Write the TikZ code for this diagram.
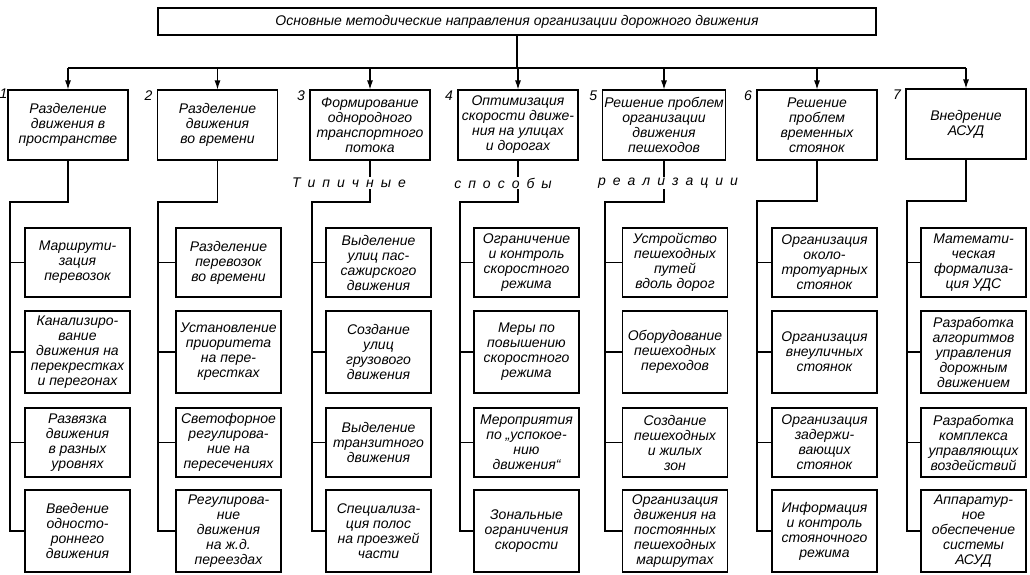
\documentclass[tikz,border=0pt]{standalone}
\usepackage{fontspec}
\setmainfont{Liberation Sans}
\usepackage{tikz}
\usetikzlibrary{arrows.meta}
\newcommand\widesp{\spaceskip 7pt\relax}

\begin{document}
\begin{tikzpicture}[x=1pt, y=-1pt, line width=1.1pt,
        box/.style={draw, align=center, inner sep=2pt, font=\fontsize{14}{15}\selectfont\itshape},
        main/.style={box, minimum width=120pt, minimum height=70pt},
        item/.style={box, minimum width=105pt, minimum height=69pt},
        tall/.style={item, minimum height=82pt},
        num/.style={anchor=north east, inner sep=1pt, font=\fontsize{14}{15}\selectfont\itshape},
        way/.style={fill=white, inner sep=1pt, font=\fontsize{14}{15}\selectfont\itshape},
        edge/.style={-{Latex[length=9pt, width=6pt]}},
        ]

        \useasboundingbox (0,0) rectangle (1030,574);

        % 顶部
        \node[box, minimum width=718pt, minimum height=27pt] (top) at (517,21.5) {Основные методические направления организации дорожного движения};

        % 方向
        \node[main] (m1) at (68,125) {Разделение\\движения в\\пространстве};
        \node[main] (m2) at (217.5,125) {Разделение\\движения\\во времени};
        \node[main] (m3) at (370,125) {Формирование\\однородного\\транспортного\\потока};
        \node[main] (m4) at (518,125) {Оптимизация\\скорости движе-\\ния на улицах\\и дорогах};
        \node[main] (m5) at (664,125) {Решение проблем\\организации\\движения\\пешеходов};
        \node[main] (m6) at (817,125) {Решение\\проблем\\временных\\стоянок};
        \node[main] (m7) at (966,124) {Внедрение\\АСУД};

        \node[num, inner sep=0pt] (n1) at ([xshift=0.5pt, yshift=1pt]m1.north west) {1};
        \node[num] (n2) at ([xshift=-3pt]m2.north west) {2};
        \node[num] (n3) at ([xshift=-3pt]m3.north west) {3};
        \node[num] (n4) at ([xshift=-3pt]m4.north west) {4};
        \node[num] (n5) at ([xshift=-3pt]m5.north west) {5};
        \node[num] (n6) at ([xshift=-3pt]m6.north west) {6};
        \node[num] (n7) at ([xshift=-3pt]m7.north west) {7};

        % 方法
        \node[item] (s11) at (77.5,262.5) {Маршрути-\\зация\\перевозок};
        \node[tall] (s12) at (77.5,352) {Канализиро-\\вание\\движения на\\перекрестках\\и перегонах};
        \node[item] (s13) at (77.5,442.5) {Развязка\\движения\\в разных\\уровнях};
        \node[tall] (s14) at (77.5,531) {Введение\\односто-\\роннего\\движения};

        \node[item] (s21) at (228.5,262.5) {Разделение\\перевозок\\во времени};
        \node[tall] (s22) at (228.5,352) {Установление\\приоритета\\на пере-\\крестках};
        \node[item] (s23) at (228.5,442.5) {Светофорное\\регулирова-\\ние на\\пересечениях};
        \node[tall] (s24) at (228.5,531) {Регулирова-\\ние\\движения\\на ж.д.\\переездах};

        \node[item] (s31) at (378.5,262.5) {Выделение\\улиц пас-\\сажирского\\движения};
        \node[tall] (s32) at (378.5,352) {Создание\\улиц\\грузового\\движения};
        \node[item] (s33) at (378.5,442.5) {Выделение\\транзитного\\движения};
        \node[tall] (s34) at (378.5,531) {Специализа-\\ция полос\\на проезжей\\части};

        \node[item] (s41) at (526.5,262.5) {Ограничение\\и контроль\\скоростного\\режима};
        \node[tall] (s42) at (526.5,352) {Меры по\\повышению\\скоростного\\режима};
        \node[item] (s43) at (526.5,442.5) {Мероприятия\\по „успокое-\\нию\\движения“};
        \node[tall] (s44) at (526.5,531) {Зональные\\ограничения\\скорости};

        \node[item] (s51) at (675,262.5) {Устройство\\пешеходных\\путей\\вдоль дорог};
        \node[tall] (s52) at (675,352) {Оборудование\\пешеходных\\переходов};
        \node[item] (s53) at (675,442.5) {Создание\\пешеходных\\и жилых\\зон};
        \node[tall] (s54) at (675,531) {Организация\\движения на\\постоянных\\пешеходных\\маршрутах};

        \node[item] (s61) at (824.5,262.5) {Организация\\около-\\тротуарных\\стоянок};
        \node[tall] (s62) at (824.5,352) {Организация\\внеуличных\\стоянок};
        \node[item] (s63) at (824.5,442.5) {Организация\\задержи-\\вающих\\стоянок};
        \node[tall] (s64) at (824.5,531) {Информация\\и контроль\\стояночного\\режима};

        \node[item] (s71) at (973.5,262.5) {Математи-\\ческая\\формализа-\\ция УДС};
        \node[tall] (s72) at (973.5,352) {Разработка\\алгоритмов\\управления\\дорожным\\движением};
        \node[item] (s73) at (973.5,442.5) {Разработка\\комплекса\\управляющих\\воздействий};
        \node[tall] (s74) at (973.5,531) {Аппаратур-\\ное\\обеспечение\\системы\\АСУД};

        % 连线
        \coordinate (bus) at (517,68);
        \draw (top.south) -- (bus);
        \draw (m1.north |- bus) -- (m7.north |- bus);
        \draw[edge] (m1.north |- bus) -- (m1.north);
        \draw[edge] (m2.north |- bus) -- (m2.north);
        \draw[edge] (m3.north |- bus) -- (m3.north);
        \draw[edge] (m4.north |- bus) -- (m4.north);
        \draw[edge] (m5.north |- bus) -- (m5.north);
        \draw[edge] (m6.north |- bus) -- (m6.north);
        \draw[edge] (m7.north |- bus) -- (m7.north);

        \coordinate (j1) at (10,202);
        \coordinate (j2) at (158,202);
        \coordinate (j3) at (312,202);
        \coordinate (j4) at (460,202);
        \coordinate (j5) at (605,202);
        \coordinate (j6) at (757,201);
        \coordinate (j7) at (907,201);

        \draw (m1.south) |- (j1) |- (s14.west);
        \draw (j1 |- s11.west) -- (s11.west);
        \draw (j1 |- s12.west) -- (s12.west);
        \draw (j1 |- s13.west) -- (s13.west);

        \draw (m2.south) |- (j2) |- (s24.west);
        \draw (j2 |- s21.west) -- (s21.west);
        \draw (j2 |- s22.west) -- (s22.west);
        \draw (j2 |- s23.west) -- (s23.west);

        \draw (m3.south) |- (j3) |- (s34.west);
        \draw (j3 |- s31.west) -- (s31.west);
        \draw (j3 |- s32.west) -- (s32.west);
        \draw (j3 |- s33.west) -- (s33.west);

        \draw (m4.south) |- (j4) |- (s44.west);
        \draw (j4 |- s41.west) -- (s41.west);
        \draw (j4 |- s42.west) -- (s42.west);
        \draw (j4 |- s43.west) -- (s43.west);

        \draw (m5.south) |- (j5) |- (s54.west);
        \draw (j5 |- s51.west) -- (s51.west);
        \draw (j5 |- s52.west) -- (s52.west);
        \draw (j5 |- s53.west) -- (s53.west);

        \draw (m6.south) |- (j6) |- (s64.west);
        \draw (j6 |- s61.west) -- (s61.west);
        \draw (j6 |- s62.west) -- (s62.west);
        \draw (j6 |- s63.west) -- (s63.west);

        \draw (m7.south) |- (j7) |- (s74.west);
        \draw (j7 |- s71.west) -- (s71.west);
        \draw (j7 |- s72.west) -- (s72.west);
        \draw (j7 |- s73.west) -- (s73.west);

        % 文字
        \node[way] (w1) at (349,183) {\widesp Т и п и ч н ы е};
        \node[way] (w2) at (503,183) {\widesp с п о с о б ы};
        \node[way] (w3) at (668,183) {\widesp р е а л и з а ц и и};

        \end{tikzpicture}
\end{document}
